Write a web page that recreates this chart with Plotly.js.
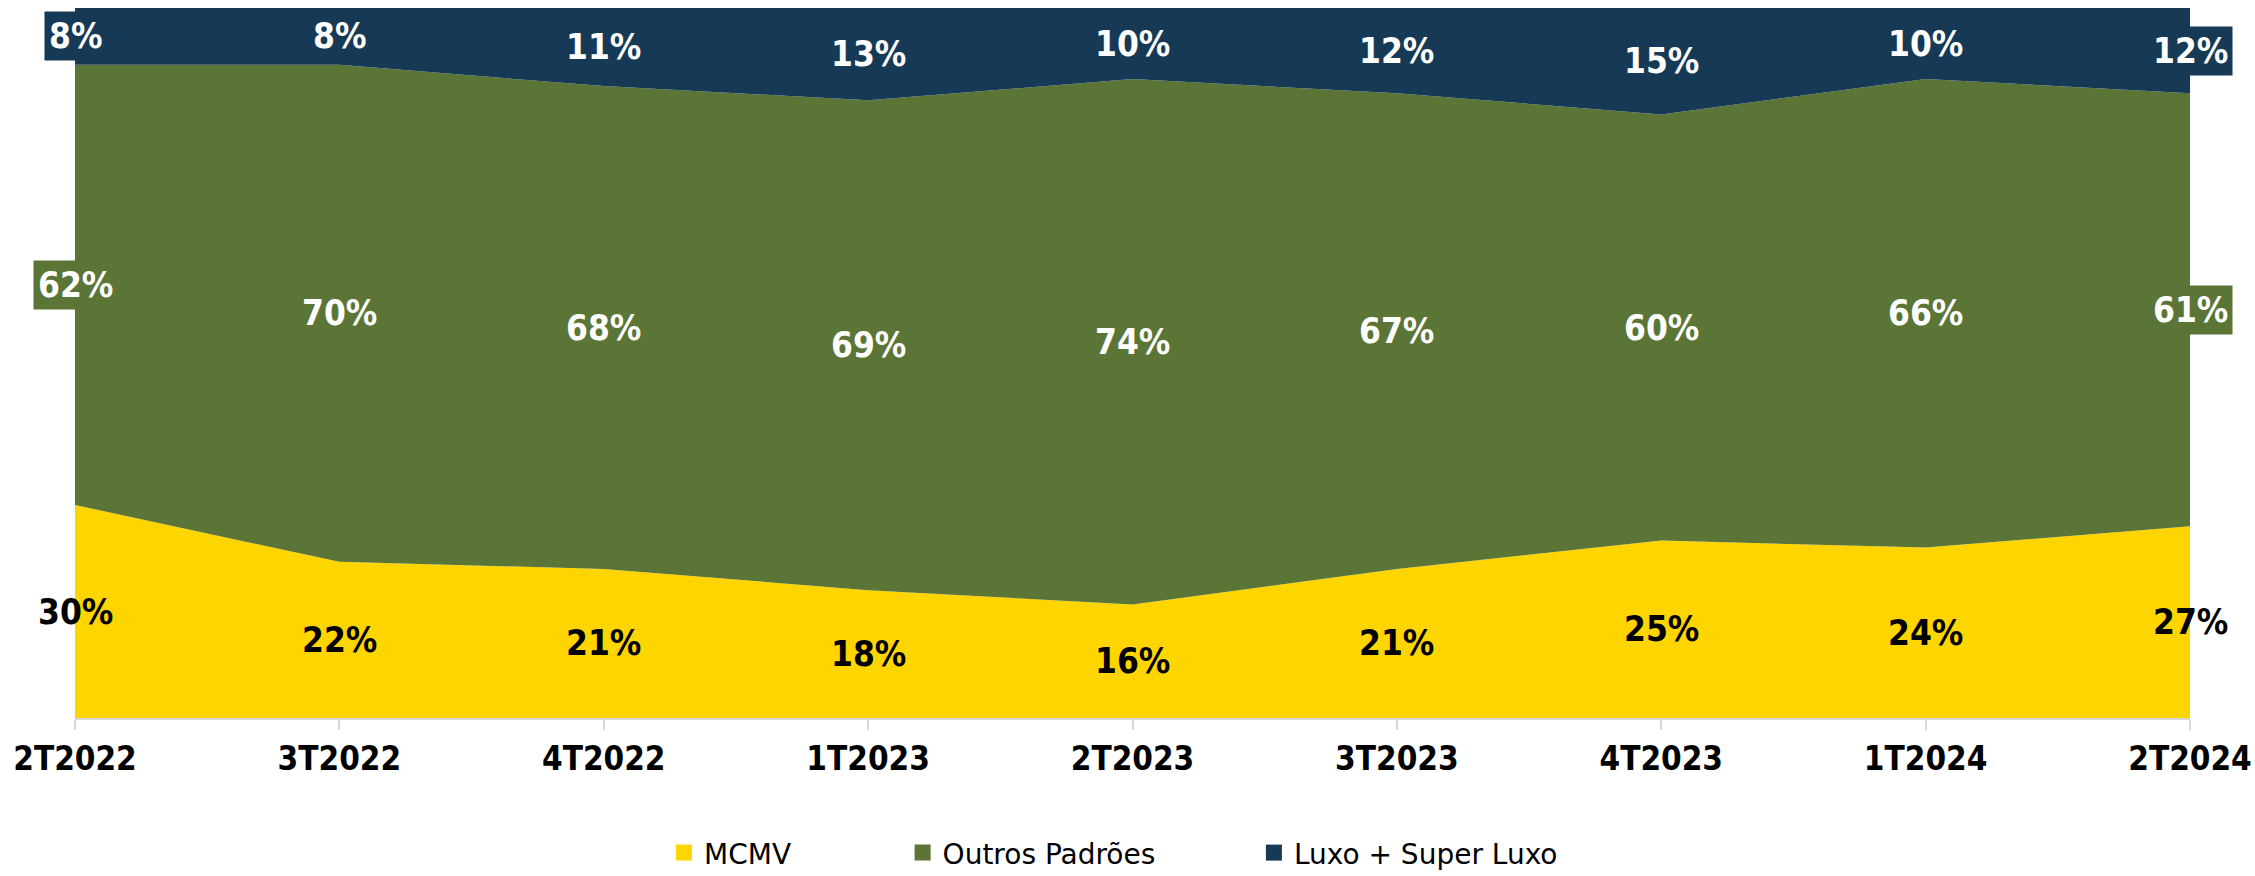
<!DOCTYPE html>
<html>
<head>
<meta charset="utf-8">
<script src="https://cdn.plot.ly/plotly-3.0.1.min.js"></script>
<style>html,body{margin:0;padding:0;background:#fff;}#chart{width:2255px;height:876px;}</style>
</head>
<body>
<div id="chart"></div>
<script>
const categories = ['2T2022','3T2022','4T2022','1T2023','2T2023','3T2023','4T2023','1T2024','2T2024'];
const mcmv   = [30, 22, 21, 18, 16, 21, 25, 24, 27];
const outros = [62, 70, 68, 69, 74, 67, 60, 66, 61];
const luxo   = [8, 8, 11, 13, 10, 12, 15, 10, 12];
const seriesNames = ['MCMV', 'Outros Padrões', 'Luxo + Super Luxo'];

const colors = ['#FFD500', '#5B7536', '#163A56'];
const labelColors = ['#000000', '#FFFFFF', '#FFFFFF'];
const labelBg = [null, '#5B7536', '#163A56'];
const series = [mcmv, outros, luxo];

const traces = [];
series.forEach((vals, i) => {
  traces.push({
    x: categories, y: vals, type: 'scatter', mode: 'lines',
    stackgroup: 'one', line: {width: 0}, fillcolor: colors[i],
    name: seriesNames[i], showlegend: false, hoverinfo: 'skip'
  });
});
const legendX = [0.2785, 0.3913, 0.5574];
series.forEach((vals, i) => {
  traces.push({
    x: [null], y: [null], type: 'scatter', mode: 'markers',
    marker: {symbol: 'square', size: 16, color: colors[i]},
    name: seriesNames[i], showlegend: true,
    legend: i === 0 ? 'legend' : 'legend' + (i + 1)
  });
});

const annotations = [];
categories.forEach((c, j) => {
  let base = 0;
  series.forEach((vals, i) => {
    const v = vals[j];
    const a = {
      x: j, y: base + v / 2, xref: 'x', yref: 'y',
      text: v + '%', showarrow: false,
      font: {family: 'DejaVu Sans Condensed, DejaVu Sans', size: 35, color: labelColors[i], weight: 'bold'},
      xanchor: 'center', yanchor: 'middle', borderpad: 4
    };
    if (labelBg[i] && (j === 0 || j === categories.length - 1)) a.bgcolor = labelBg[i];
    annotations.push(a);
    base += v;
  });
});

const legendBase = {
  orientation: 'h', yanchor: 'middle', xanchor: 'left', y: -0.19,
  font: {family: 'DejaVu Sans', size: 28, color: '#000'}, bgcolor: 'rgba(0,0,0,0)'
};
const layout = {
  width: 2255, height: 876,
  margin: {l: 75, r: 65, t: 8, b: 158, autoexpand: false},
  paper_bgcolor: '#fff', plot_bgcolor: '#fff',
  showlegend: true,
  xaxis: {
    type: 'category', range: [0, categories.length - 1],
    showgrid: false, zeroline: false,
    showline: true, linecolor: '#D9D9D9', linewidth: 2,
    ticks: 'outside', ticklen: 10, tickcolor: '#D9D9D9', tickwidth: 2,
    tickfont: {family: 'DejaVu Sans Condensed, DejaVu Sans', size: 33, color: '#000', weight: 'bold'},
    automargin: false, fixedrange: true
  },
  yaxis: {range: [0, 100], visible: false, showgrid: false, fixedrange: true},
  legend:  Object.assign({}, legendBase, {x: legendX[0]}),
  legend2: Object.assign({}, legendBase, {x: legendX[1]}),
  legend3: Object.assign({}, legendBase, {x: legendX[2]}),
  annotations: annotations
};
Plotly.newPlot('chart', traces, layout, {staticPlot: true, displayModeBar: false});
</script>
</body>
</html>
